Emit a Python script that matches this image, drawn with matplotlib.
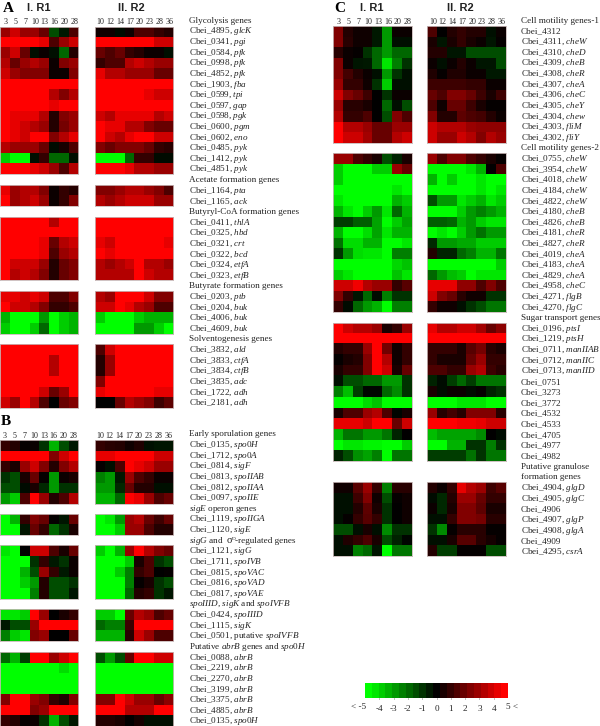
import matplotlib
matplotlib.use("Agg")
import matplotlib.pyplot as plt
from matplotlib.colors import LinearSegmentedColormap

plt.rcParams['font.family'] = ['Liberation Serif', 'DejaVu Sans']
plt.rcParams['mathtext.fontset'] = 'custom'
plt.rcParams['mathtext.rm'] = 'Liberation Serif'
plt.rcParams['mathtext.it'] = 'Liberation Serif:italic'
plt.rcParams['mathtext.default'] = 'it'

W, H = 600, 726

# time points of the two reactors
r1_hours = ["3", "5", "7", "10", "13", "16", "20", "28"]
r2_hours = ["10", "12", "14", "17", "20", "23", "28", "36"]

# every row: 8 values for R1, then 8 values for R2
glycolysis = [
    [3, 4, 3, 3, 2, -1.5, -0.5, 1.5, 0.3, 0.3, -0.2, 0.3, 1.5, 1.5, 1, 0.7],
    [5, 5, 5, 5, 4.5, 1.5, 3, 4, 5, 5, 5, 5, 5, 5, 4, 4],
    [3, 4, 2, -0.3, 0.2, -0.3, -2, 0.7, 2, 1.5, 2, 1, 0.7, 0.2, 0.2, -0.3],
    [3.5, 2, 3, 3.5, 3, 0.2, 2.5, 3, 1, 1.5, 1.5, 3.5, 4, 3.5, 3, 3],
    [4, 3, 2.5, 2.5, 2.5, 0.2, 0.2, 2.5, 4.5, 3.5, 3.5, 3, 3, 3, 2, 2],
    [5, 5, 5, 5, 5, 5, 5, 5, 5, 5, 5, 5, 5, 5, 5, 5],
    [5, 5, 5, 5, 5, 3.5, 2.5, 3.5, 5, 5, 5, 5, 5, 4.5, 4, 4],
    [5, 5, 5, 5, 5, 4.5, 5, 5, 5, 5, 5, 5, 5, 5, 5, 5],
    [5, 4.5, 4.5, 4.5, 3.5, 0.7, 2.5, 3, 4, 3.5, 4.5, 4.5, 4.5, 4.5, 3.5, 4],
    [5, 4.5, 4, 3.5, 3, 0.7, 2.3, 3, 5, 4.5, 4.5, 3.5, 3.5, 2.5, 2, 2],
    [5, 4.5, 4, 5, 5, 2.5, 3.5, 4.5, 5, 4, 3.5, 4.5, 5, 5, 4, 4],
    [3.5, 3, 3, 3, 2, -0.2, 0.5, 1.5, 2.5, 2, 2.5, 2.5, 2.5, 2, 1, 0.8],
    [-4, -5, -5, -0.3, 1, -2, -2, -0.3, -5, -5, -5, -2, 1, 1, -0.2, -0.2],
    [5, 5, 5, 4.5, 4, 3, 1.5, 3.5, 5, 5, 5, 4.5, 3.5, 3.5, 3, 3],
]
acetate = [
    [4.5, 3, 3.5, 3.5, 2.5, 0.2, 1, 0.7, 2.5, 2.5, 3, 3.5, 3.5, 3, 2.5, 1.5],
    [5, 3, 3.5, 4, 3, 0.2, 1, 2.5, 3.5, 3, 3.5, 4, 4, 4, 3, 3],
]
butyryl = [
    [5, 5, 5, 5, 5, 3.5, 5, 5, 5, 5, 5, 5, 5, 5, 5, 5],
    [5, 5, 5, 5, 5, 5, 5, 5, 5, 5, 5, 5, 5, 5, 5, 5],
    [5, 5, 5, 5, 4.5, 2, 3.5, 4, 4.5, 4, 5, 5, 5, 5, 5, 4.5],
    [5, 5, 5, 5, 4.5, 1.5, 3, 3.5, 5, 4.5, 5, 5, 5, 5, 5, 5],
    [5, 4, 4, 4, 3, 0.7, 2, 2.5, 3.5, 3, 3.5, 4, 5, 3.5, 3.5, 3],
    [5, 3.5, 4, 3.5, 2.5, 0.7, 2, 2.5, 3.5, 3.5, 3.5, 3.5, 5, 4, 3.5, 3.5],
]
butyrate = [
    [4.5, 4.5, 4, 4.5, 4, 1.5, 1.5, 2.5, 3.5, 3, 5, 5, 5, 4, 2.5, 2.5],
    [5, 4, 4, 3.5, 2.5, 1, 1, 1.5, 4, 4, 5, 4.5, 3.5, 3, 1.5, 1.5],
    [-3.5, -5, -5, -5, -3, -5, -4, -3.5, -4, -5, -5, -5, -4, -3.5, -3.5, -3.5],
    [-4, -5, -5, -4, -2, -5, -4, -3.5, -5, -5, -5, -5, -3, -3, -4, -5],
]
solvent = [
    [5, 5, 5, 5, 5, 5, 5, 5, 1.5, 4, 5, 5, 5, 5, 5, 5],
    [5, 5, 5, 5, 5, 3.5, 5, 5, 0.7, 3, 5, 5, 5, 5, 5, 5],
    [5, 5, 5, 5, 5, 3.5, 5, 5, 0.7, 3, 5, 5, 5, 5, 5, 5],
    [5, 5, 5, 5, 5, 5, 5, 5, 2.5, 5, 5, 5, 5, 5, 5, 5],
    [5, 5, 5, 5, 4, 2, 3, 5, 4.5, 5, 5, 5, 5, 5, 4.5, 4.5],
    [4, 3, 5, 3.5, 1.5, 0, 2, 2.5, 0, 0, 2, 3.5, 3, 2.5, 1.2, 1.8],
]
early_spo = [
    [1, 0.7, 0.1, 0.2, -1, -3.5, -1.5, -0.5, 1, 0.8, 0.7, 0.3, 0.6, -0.3, -0.4, -0.4],
    [5, 5, 5, 5, 5, 2.5, 4, 5, 4.5, 4.5, 5, 5, 5, 5, 4, 4],
    [1, 0.5, 3, 4, 2.5, 0.7, 2.5, 3.5, 0.1, -0.3, 1.5, 5, 4.5, 4, 3, 3],
    [-1, -1.5, 0.5, 2, 0.1, -3, 0.2, 0.5, -2.5, -3, -0.5, 3, 1.5, 1, 0.2, 0.2],
    [-1.5, -1.5, -0.2, 0.5, -0.8, -3, -1, -1, -3, -3, -0.8, 2, 0.7, 0.7, -0.3, -0.3],
    [-3, -4, 1.5, 5, 3, 0.7, 1.5, 3.5, -3.5, -3.5, -2, 5, 4.5, 3, 1.5, 2],
]
sige_operon = [
    [-5, -3.5, 1, 2.5, 2, 0.1, -0.4, 2, -5, -4.5, -3, 3, 3.5, 2, 1.2, 2],
    [-5, -5, -0.4, 2, 1, -2, -1, 0.5, -5, -5, -4, 3, 3, 1.5, 0.7, 0.7],
]
sigg_regulated = [
    [-4.5, -5, 0, 4, 4, 1.5, 0.5, 2, -4, -5, -3.5, 3, 5, 3.5, 2.5, 2],
    [-5, -5, -5, -1, 1, -0.5, -1, 0.2, -5, -5, -5, -4, 0.5, 1.5, -1, -1.5],
    [-5, -5, -3.5, -1.5, 3, 1, -0.5, 0.2, -5, -5, -4, -2.5, 1, 1.5, 0, 0.1],
    [-5, -5, -4, -3, 0.7, -1.5, -1.5, -1, -5, -5, -5, -2.5, 0.1, 0.5, -1, -1.5],
    [-5, -5, -5, -2.5, 0.7, -1.5, -1.5, -0.4, -5, -5, -5, -2, 0.7, 1, -1, -0.4],
]
spoiiid = [
    [-4.5, -4.5, -4, 5, 3, 0, 0.5, 1, -4, -4, -5, 2, 3.5, 3, 1.5, 2],
    [-0.5, -1.5, -1.5, 3, 5, 5, 5, 5, -2, -2.5, -2.5, 1.2, 5, 5, 5, 5],
    [-2.5, -4, -4.5, 2.5, 3, 0, 0, 2, -3.5, -3.5, -3.5, 0.8, 4, 3, 1.5, 1.5],
]
abrb = [
    [-2, -3.5, -1.2, 5, 5, 3, 4, 5, -1.5, -3, -1.5, 2, 5, 5, 4, 4],
    [-5, -5, -5, -5, -5, -5, -4.3, -5, -5, -5, -5, -5, -5, -5, -5, -5],
    [-5, -5, -5, -5, -5, -5, -5, -5, -5, -5, -5, -5, -5, -5, -5, -5],
    [-5, -5, -5, -5, -5, -5, -5, -5, -5, -5, -5, -5, -5, -5, -5, -5],
    [2.5, 5, 5, 3, 2.5, 1, 0.6, 2.5, 2.5, 2.5, 5, 4, 3, 3, 2, 2.7],
    [5, 5, 5, 2.5, 3, 5, 5, 5, 5, 5, 5, 3.5, 3.5, 3.5, 5, 5],
    [1, 0.7, 0.1, 0.2, -1, -3.5, -1.5, -0.5, 0.7, 0.7, 0.5, 0, 0.4, -0.3, -0.3, -0.3],
]
motility1 = [
    [2.5, 0.7, 0.3, 0.3, -0.5, -3, 0.2, 0.2, 1.5, 0, 0.7, 1, 0.7, 0.7, -0.3, 0.2],
    [2.5, 0.8, 0.3, 0.3, -0.5, -3, -0.3, -0.3, 0.5, -0.4, 0.5, 1, 0.5, 0.2, -0.4, 0.1],
    [0.8, 0.2, 0.1, -1, -2, -3, -2, -2, 0.7, 0.7, -0.4, -0.4, -1.5, -1.5, -1.5, -1.5],
    [2.5, 0.2, -0.4, -0.5, -2, -4.5, -2.5, -1, 0.2, -0.3, 0.2, 0.7, 0.2, -0.4, -0.4, -1.5],
    [2.5, 1.3, 0.7, 0.2, -0.3, -3, -1, -0.3, 0.6, 0.1, 0.6, 0.6, 0.2, 0.2, -0.5, -0.5],
    [3, 1, 1, 0.3, -1, -4, -0.3, -0.3, 1.2, 1.2, 1.2, 1.2, 1, 1, 0.2, 0.2],
    [4, 2.5, 2, 1.2, 0, -1, 0.2, 0.2, 2, 1.5, 2.5, 2.5, 2, 1.2, 0.5, 1.2],
    [3, 0.8, 0.8, 0.5, 0, -2, -0.3, -1.5, 1.5, 0.3, 2, 2, 1.2, 0.5, 0.1, 0.1],
    [3.5, 1, 1, 1.5, 0, -1.5, 2.5, 1.5, 2.5, 0.7, 0.7, 1.8, 1.5, 1.3, 0.7, 0.2],
    [5, 3.5, 3.5, 3, 2, 2, 3, 3, 4, 3.5, 3.5, 3.5, 3, 2.8, 2.8, 2.8],
    [5, 4, 4, 3.2, 2, 2, 3.5, 4, 4, 3, 3, 4, 3.5, 2.5, 3.5, 3],
]
motility2 = [
    [3, 3, 1.5, 1, 0.5, -1.5, -0.7, 0.5, 3, 1.5, 2.5, 2.5, 1.5, 1, 0.5, 0.1],
    [-4, -5, -5, -5, -4, -4, 3, 2, -5, -5, -5, -5, -4.5, -3.5, 0, 1.5],
    [-4, -5, -5, -5, -5, -5, -5, -5, -3.5, -5, -4, -5, -5, -4.5, -5, -5],
    [-5, -5, -5, -5, -5, -5, -4.5, -5, -5, -5, -5, -5, -5, -4.5, -5, -4.5],
    [-4.5, -5, -5, -5, -5, -5, -3.5, -4, -1.5, -3, -3, -4.5, -4, -3.5, -4.5, -4],
    [-3.5, -4.5, -5, -4, -3, -4.5, -2, -3.5, -5, -5, -5, -4, -3, -2.5, -3, -3.5],
    [-1.2, -1.2, -1.8, -1.8, -3.2, -5, -4, -3.2, -1.8, -1.8, -2, -3.5, -3, -4, -4.5, -4.5],
    [-3.5, -5, -5, -4.3, -3.2, -4.5, -3.5, -3.5, -5, -4.5, -5, -4, -3, -2.2, -3, -3],
    [-2.2, -4.3, -4.3, -3.5, -3.5, -5, -5, -4.5, -0.8, -3, -3, -3.3, -3.3, -4, -4, -4],
    [-1, -3, -4.3, -4.5, -4.5, -5, -2.5, -2.5, 0.7, -0.7, -0.7, -2, -2.5, -3.5, -3.5, -2.3],
    [-5, -5, -5, -5, -5, -5, -4.2, -3.8, -5, -5, -5, -5, -5, -5, -5, -4],
    [-4, -4.5, -5, -5, -5, -5, -3.8, -4.5, -2, -3, -3.7, -4, -5, -4.5, -4.5, -4.5],
    [4, 4, 4.7, 3.5, 3, 3, 1, 1.7, 4.5, 4.5, 4.5, 2.8, 2.8, 1.5, 2.5, 1.5],
    [2.5, 1, -0.4, -2, -0.2, -2.5, -1, -1, 4, 2.5, 2, 0.8, 0.3, 0.3, -1, -1],
    [1, -0.2, -2, -3, -3.5, -5, -2.5, -2.5, 1, 0.3, 0.3, -0.3, -1, -1.5, -2.3, -2.3],
]
sugar = [
    [5, 4, 3.5, 3.5, 3, 0.5, 1, 3, 4.5, 3.5, 3.5, 4, 4, 3.2, 2, 2.7],
    [5, 5, 5, 5, 5, 5, 5, 5, 5, 5, 5, 5, 5, 5, 5, 5],
    [0.7, 1, 1, 3, 5, 2.2, 0.3, 1, 1, 1, 1, 0.5, 1.7, 2.3, 0.8, 0.5],
    [0.1, 0.5, 0.7, 2.5, 5, 3.5, 0.3, 1, 1, 0.5, 0.5, 0.5, 2, 3, 1, 1],
    [0.5, 1, 1, 2.5, 5, 4, 0.5, 2, 1.5, 1.5, 1, 1, 3, 3.5, 1.2, 0.8],
    [-0.3, -1.5, -1.5, -2, -2, -3, -3, -1, -0.7, -0.2, -1.2, -2, -1.2, -2.3, -2.3, -2.3],
    [-2.5, -3.7, -1.2, -0.1, -0.1, -2, -2.7, -1, 0.5, -0.2, 0.2, 0.2, -0.2, 0.1, -0.7, -1],
    [-5, -5, -5, -4.3, -3.8, -5, -5, -5, -5, -5, -5, -4.5, -4.5, -4.5, -5, -5],
    [0.5, 1.5, 1.5, 3, 3.5, 1.5, -0.1, 0.5, 3, 0.8, 1.3, 0.8, 2.5, 2.5, 2.5, 0.8],
    [4.5, 4.5, 4.5, 4, 5, 5, 2, 4, 5, 5, 5, 4.7, 4.7, 4.5, 4, 4],
    [-3.5, -2.3, -2.3, -3, -3, -2.3, -0.7, 0, -3.7, -3.2, -3.2, -3.2, -3.2, -2.7, 0, -0.2],
    [-5, -4.5, -4.5, -4.8, -4.8, -5, -5, -4, -5, -5, -3.5, -3.5, -1, -1, -2.5, -1],
    [-0.7, -1.5, -2.8, -3.2, -2.5, -5, -2.3, -2.3, -1.2, -1.2, -1.2, -1.2, -2.2, -1, -2.3, -2.3],
]
granulose = [
    [0.3, 0.3, 1.7, 3, 1, -2.5, 0.8, 0.8, 0.7, 0.2, 1, 4.5, 3.5, 3, 1.2, 1.7],
    [-0.3, -0.3, 1.2, 2.5, 0.3, -1.5, 0.1, 0.3, -0.2, -0.8, 0.7, 3, 3, 2, 1, 1],
    [-0.3, -0.3, 0.7, 1.8, 0.5, -1, 0, 0.3, 0.2, -0.8, 0.5, 2.5, 2.5, 1.8, 0.5, 0.5],
    [-0.3, 0.1, 1, 1.7, 1, -1, 0, 0.3, -0.3, -0.3, 1, 2.5, 2.5, 2.3, 0.8, 0.8],
    [-1.5, -1.5, -0.3, 0.5, -0.3, -2.7, -1, -1, -1, -2.7, 0.1, 0.8, 0.8, 0.8, 0.1, 0.1],
    [-0.3, 0.6, 1, 1.5, 0.5, -1.5, -0.7, -0.1, -0.3, -0.3, 0.5, 1.7, 1.7, 0.8, 0.4, 0.1],
    [-0.3, -0.3, -2.5, -2, -0.4, -5, -2.3, -2.3, 0.7, -1.2, -1.2, 0.1, 0.1, 0.1, -1.5, -1.5],
]

# labels down the side of each panel
labels_a = ["Glycolysis genes", r"Cbei_4895, $glcK$", r"Cbei_0341, $pgi$", r"Cbei_0584, $pfk$",
            r"Cbei_0998, $pfk$", r"Cbei_4852, $pfk$", r"Cbei_1903, $fba$", r"Cbei_0599, $tpi$",
            r"Cbei_0597, $gap$", r"Cbei_0598, $pgk$", r"Cbei_0600, $pgm$", r"Cbei_0602, $eno$",
            r"Cbei_0485, $pyk$", r"Cbei_1412, $pyk$", r"Cbei_4851, $pyk$",
            "Acetate formation genes", r"Cbei_1164, $pta$", r"Cbei_1165, $ack$",
            "Butyryl-CoA formation genes", r"Cbei_0411, $thlA$", r"Cbei_0325, $hbd$",
            r"Cbei_0321, $crt$", r"Cbei_0322, $bcd$", r"Cbei_0324, $etfA$", r"Cbei_0323, $etfB$",
            "Butyrate formation genes", r"Cbei_0203, $ptb$", r"Cbei_0204, $buk$",
            r"Cbei_4006, $buk$", r"Cbei_4609, $buk$",
            "Solventogenesis genes", r"Cbei_3832, $ald$", r"Cbei_3833, $ctfA$", r"Cbei_3834, $ctfB$",
            r"Cbei_3835, $adc$", r"Cbei_1722, $adh$", r"Cbei_2181, $adh$"]
labels_b = ["Early sporulation genes", r"Cbei_0135, $spo0H$", r"Cbei_1712, $spo0A$", r"Cbei_0814, $sigF$",
            r"Cbei_0813, $spoIIAB$", r"Cbei_0812, $spoIIAA$", r"Cbei_0097, $spoIIE$",
            r"$sigE$ operon genes", r"Cbei_1119, $spoIIGA$", r"Cbei_1120, $sigE$",
            r"$sigG$ and", r"Cbei_1121, $sigG$", r"Cbei_1711, $spoIVB$",
            r"Cbei_0815, $spoVAC$", r"Cbei_0816, $spoVAD$", r"Cbei_0817, $spoVAE$",
            r"$spoIIID$, $sigK$ and $spoIVFB$", r"Cbei_0424, $spoIIID$", r"Cbei_1115, $sigK$",
            r"Cbei_0501, putative $spoIVFB$",
            r"Putative $abrB$ genes and $spo0H$", r"Cbei_0088, $abrB$", r"Cbei_2219, $abrB$",
            r"Cbei_2270, $abrB$", r"Cbei_3199, $abrB$", r"Cbei_3375, $abrB$", r"Cbei_4885, $abrB$",
            r"Cbei_0135, $spo0H$"]
labels_c = ["Cell motility genes-1", "Cbei_4312", r"Cbei_4311, $cheW$", r"Cbei_4310, $cheD$",
            r"Cbei_4309, $cheB$", r"Cbei_4308, $cheR$", r"Cbei_4307, $cheA$", r"Cbei_4306, $cheC$",
            r"Cbei_4305, $cheY$", r"Cbei_4304, $chew$", r"Cbei_4303, $fliM$", r"Cbei_4302, $fliY$",
            "Cell motility genes-2", r"Cbei_0755, $cheW$", r"Cbei_3954, $cheW$", r"Cbei_4018, $cheW$",
            r"Cbei_4184, $cheW$", r"Cbei_4822, $cheW$", r"Cbei_4180, $cheB$", r"Cbei_4826, $cheB$",
            r"Cbei_4181, $cheR$", r"Cbei_4827, $cheR$", r"Cbei_4019, $cheA$", r"Cbei_4183, $cheA$",
            r"Cbei_4829, $cheA$", r"Cbei_4958, $cheC$", r"Cbei_4271, $flgB$", r"Cbei_4270, $flgC$",
            "Sugar transport genes", r"Cbei_0196, $ptsI$", r"Cbei_1219, $ptsH$", r"Cbei_0711, $manIIAB$",
            r"Cbei_0712, $manIIC$", r"Cbei_0713, $manIID$", "Cbei_0751", "Cbei_3273", "Cbei_3772",
            "Cbei_4532", "Cbei_4533", "Cbei_4705", "Cbei_4977", "Cbei_4982",
            "Putative granulose", "formation genes", r"Cbei_4904, $glgD$", r"Cbei_4905, $glgC$",
            "Cbei_4906", r"Cbei_4907, $glgP$", r"Cbei_4908, $glgA$", "Cbei_4909", r"Cbei_4295, $csrA$"]

scale_levels = [-5, -4.5, -4, -3.5, -3, -2.5, -2, -1.5, -1, -0.5, 0, 0.5, 1, 1.5, 2, 2.5, 3, 3.5, 4, 4.5, 5]
scale_ticks = [-4, -3, -2, -1, 0, 1, 2, 3, 4]

cmap = LinearSegmentedColormap.from_list("gbr", ["#00ff00", "#000000", "#ff0000"])


def pixel_axes(fig, x0, y0, x1, y1):
    # axes from picture pixels, y counted from the top
    return fig.add_axes([x0 / W, 1 - y1 / H, (x1 - x0) / W, (y1 - y0) / H])


def heat(fig, rows, x0, y0, y1, first):
    ax = pixel_axes(fig, x0, y0, x0 + 78.2, y1)
    values = [r[first:first + 8] for r in rows]
    ax.imshow(values, cmap=cmap, vmin=-5, vmax=5, aspect='auto', interpolation='nearest')
    ax.set_xticks([])
    ax.set_yticks([])
    for s in ax.spines.values():
        s.set_color('#c8b8b8')
        s.set_linewidth(0.6)
    return ax


def block(fig, rows, x_left, x_right, y0, y1):
    heat(fig, rows, x_left, y0, y1, 0)
    heat(fig, rows, x_right, y0, y1, 8)


def hour_labels(fig, x_left, x_right, y, dx=0.8):
    for x0, hours in ((x_left, r1_hours), (x_right, r2_hours)):
        for i, h in enumerate(hours):
            fig.text((x0 + (i + 0.5) * 78.2 / 8 + dx) / W, 1 - y / H, h, ha='center', va='center',
                     fontsize=5.8, color='#222222')


def side_labels(fig, labels, x, y0, step=10.62):
    for i, lab in enumerate(labels):
        fig.text(x / W, 1 - (y0 + i * step) / H, lab, ha='left', va='center', fontsize=6.6, color='#222222')


fig = plt.figure(figsize=(W / 100, H / 100), dpi=100)

# panel A
block(fig, glycolysis, 0, 95, 26.5, 174.3)
block(fig, acetate, 0, 95, 185.2, 206.3)
block(fig, butyryl, 0, 95, 216.7, 280.3)
block(fig, butyrate, 0, 95, 291, 333.7)
block(fig, solvent, 0, 95, 344.2, 408)
hour_labels(fig, 0, 95, 21.7)
side_labels(fig, labels_a, 189, 20.8)

# panel B
block(fig, early_spo, 0, 95, 440, 503.7)
block(fig, sige_operon, 0, 95, 514, 535.2)
block(fig, sigg_regulated, 0, 95, 545.3, 598.7)
block(fig, spoiiid, 0, 95, 609.3, 641.3)
block(fig, abrb, 0, 95, 652, 726)
hour_labels(fig, 0, 95, 436, dx=0)
side_labels(fig, labels_b, 189, 434.5)

# sigma header is set in pieces so its superscript stays inside the line
fig.text(231.8 / W, 1 - 540.7 / H, "σ", ha='right', va='center', fontsize=7.6, color='#222222')
fig.text(232 / W, 1 - 538.6 / H, "D", ha='left', va='center', fontsize=3.8, color='#222222')
fig.text(235 / W, 1 - 540.7 / H, "-regulated genes", ha='left', va='center', fontsize=6.6, color='#222222')

# panel C
block(fig, motility1, 333.4, 427.3, 26, 143)
block(fig, motility2, 333.4, 427.3, 153.3, 312.3)
block(fig, sugar, 333.4, 427.3, 322.7, 461.3)
block(fig, granulose, 333.4, 427.3, 482.3, 556.3)
hour_labels(fig, 333.4, 427.3, 21.7)
side_labels(fig, labels_c, 520.8, 20.8)

# panel letters and reactor titles
for x, y, s in [(2.5, 8, "A"), (0.5, 421.5, "B"), (334, 8, "C")]:
    fig.text(x / W, 1 - y / H, s, fontsize=11, fontweight='bold', ha='left', va='center', color='black')
for x, y, s in [(39, 8.3, "I. R1"), (131, 8.3, "II. R2"), (372, 8.3, "I. R1"), (460.7, 8.3, "II. R2")]:
    fig.text(x / W, 1 - y / H, s, fontsize=8, fontweight='bold', family='Liberation Sans',
             ha='center', va='center', color='#222222')

# colour scale
cax = pixel_axes(fig, 365, 683, 508, 698)
cax.imshow([scale_levels], cmap=cmap, vmin=-5, vmax=5, aspect='auto', interpolation='nearest',
           extent=(-5, 5, 0, 1))
cax.set_yticks([])
cax.set_xticks(scale_ticks)
cax.set_xticklabels(scale_ticks)
cax.tick_params(axis='x', length=1, width=0.4, pad=4, labelsize=6.6, colors='#222222')
for s in cax.spines.values():
    s.set_visible(False)
fig.text(359 / W, 1 - 707 / H, "< -5", ha='center', va='center', fontsize=6.6, color='#222222')
fig.text(512 / W, 1 - 707 / H, "5 <", ha='center', va='center', fontsize=6.6, color='#222222')

fig.savefig("out.png", dpi=100)
